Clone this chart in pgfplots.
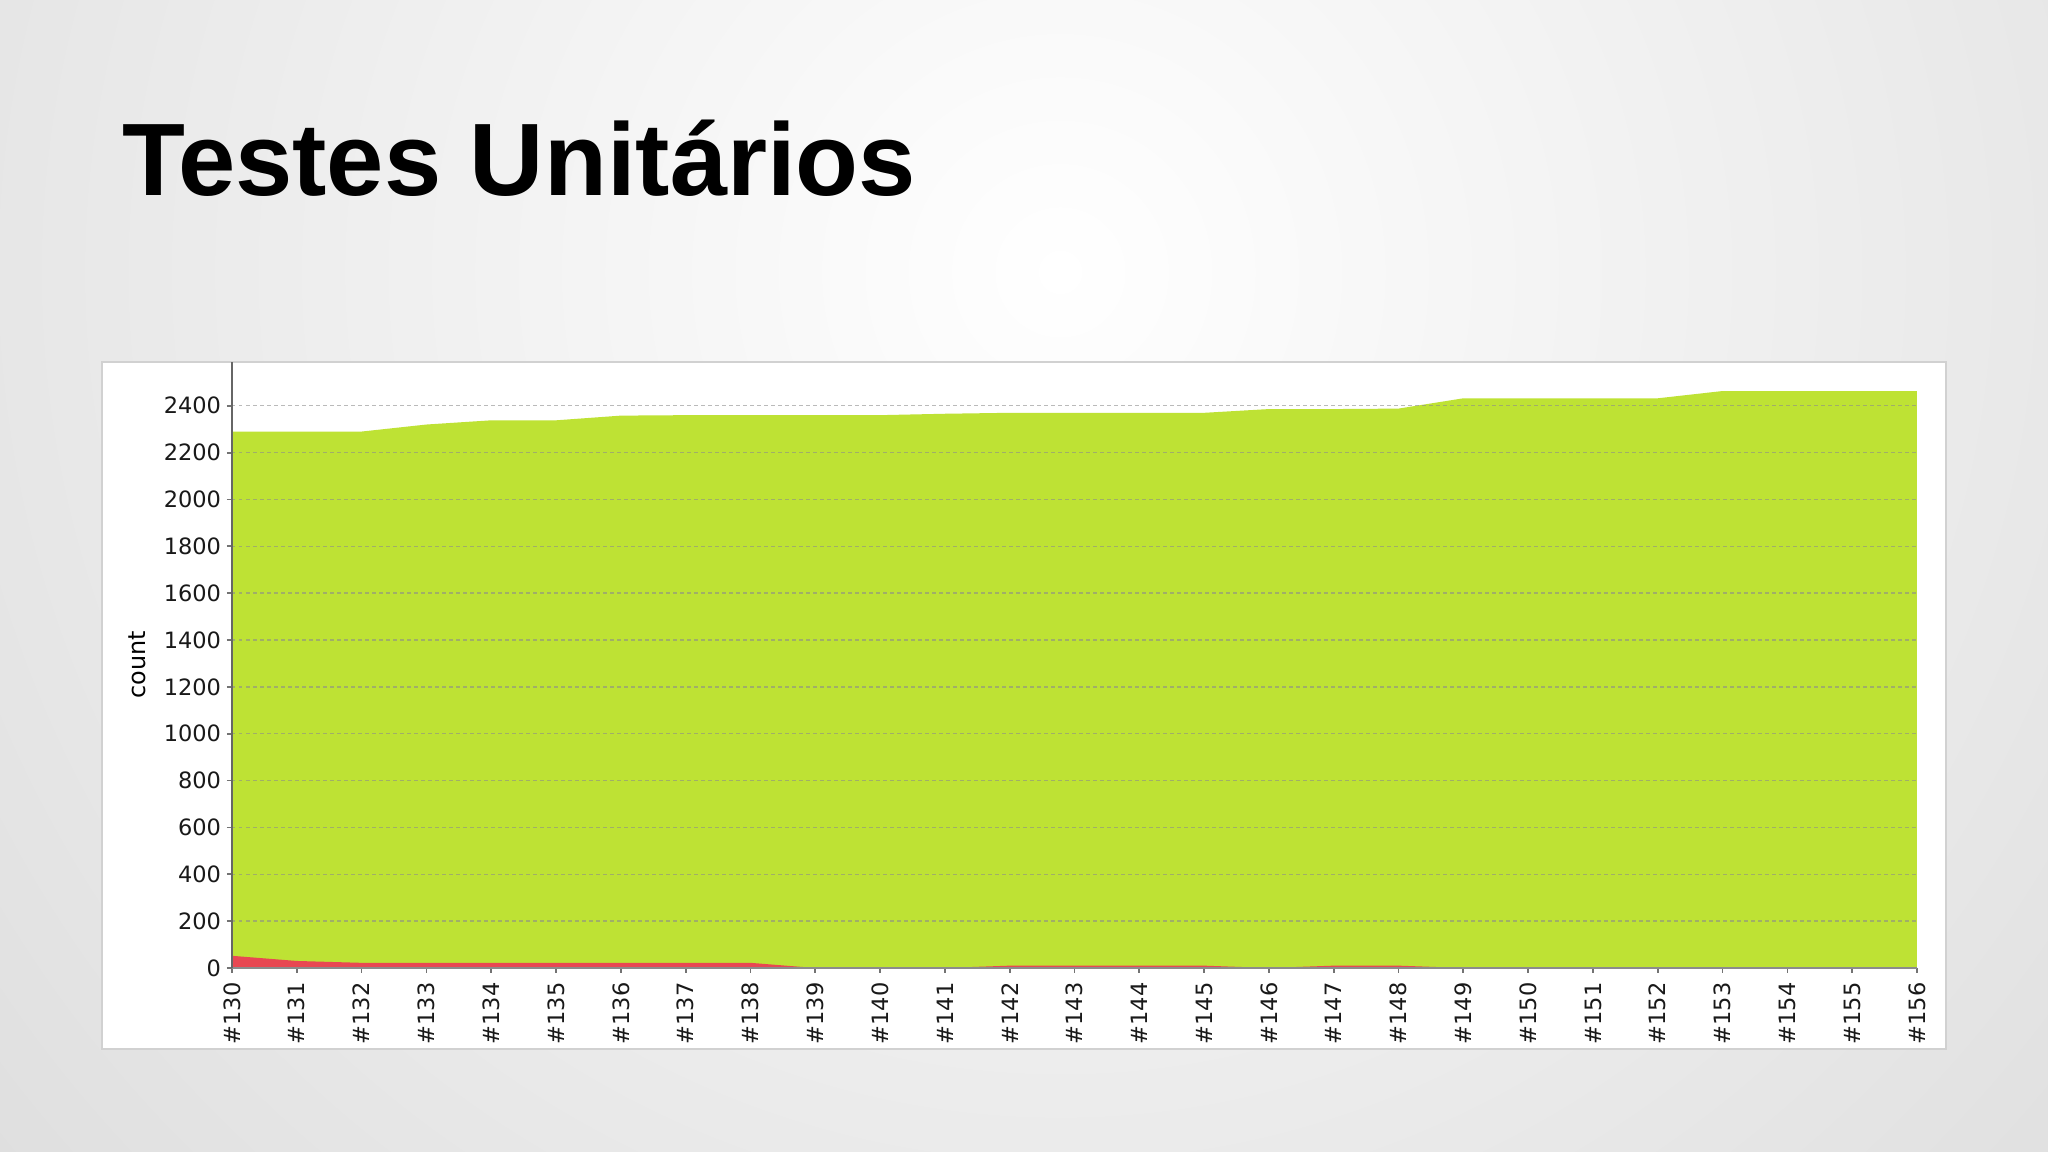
\documentclass[border=0pt]{standalone}
\usepackage{fontspec}
\setmainfont{Liberation Sans}
\newfontfamily\chartfont{DejaVu Sans}
\usepackage{pgfplots}
\pgfplotsset{compat=1.18}
\definecolor{passgreen}{RGB}{190,226,52}
\definecolor{failred}{RGB}{232,72,82}
\begin{document}
\begin{tikzpicture}[x=1cm,y=1cm]
\useasboundingbox (0,0) rectangle (20.48,11.52);
\begin{scope}
\clip (0,0) rectangle (20.48,11.52);
\shade[inner color=white, outer color=black!19] (10.6,8.8) circle (21cm);
\end{scope}
% title
\node[anchor=base west, inner sep=0pt, font=\fontsize{29.3}{32}\selectfont\bfseries] at (1.22,9.56) {Testes Unitários};
% white panel
\fill[white, draw=black!18, line width=0.6pt] (1.02,1.03) rectangle (19.46,7.90);
\begin{axis}[
  at={(2.32cm,1.84cm)}, anchor=origin,
  scale only axis, width=16.85cm, height=6.06cm,
  xmin=130, xmax=156, ymin=0, ymax=2587,
  axis lines*=left,
  axis line style={black!60, line width=0.6pt},
  x axis line style={black!45},
  axis on top,
  xtick={130,...,156},
  xticklabels={\#130,\#131,\#132,\#133,\#134,\#135,\#136,\#137,\#138,\#139,\#140,\#141,\#142,\#143,\#144,\#145,\#146,\#147,\#148,\#149,\#150,\#151,\#152,\#153,\#154,\#155,\#156},
  ytick={0,200,...,2400},
  tick align=outside,
  major tick length=0.05cm,
  tick style={black!55, line width=0.5pt},
  ymajorgrids,
  grid style={black!45, opacity=0.6, line width=0.4pt, dash pattern=on 0.035cm off 0.035cm},
  /pgf/number format/assume math mode=true,
  /pgf/number format/1000 sep={},
  tick label style={font=\chartfont\fontsize{6.4}{7}\selectfont, text=black!90},
  xticklabel style={rotate=90, anchor=east, inner sep=2.5pt},
  yticklabel style={inner sep=1.5pt},
  ylabel={count},
  ylabel style={font=\chartfont\fontsize{6.8}{8}\selectfont, at={(axis description cs:0,0.5)}, anchor=center, rotate=0, yshift=0.95cm},
  clip=false,
]
\addplot[fill=passgreen, draw=none] table {
x y
130 2290
131 2290
132 2290
133 2320
134 2338
135 2338
136 2358
137 2360
138 2360
139 2360
140 2360
141 2366
142 2370
143 2370
144 2370
145 2370
146 2386
147 2386
148 2388
149 2432
150 2432
151 2432
152 2432
153 2463
154 2463
155 2463
156 2463
} \closedcycle;
\addplot[fill=failred, draw=none] table {
x y
130 52
131 30
132 22
133 22
134 22
135 22
136 22
137 22
138 22
139 0
140 0
141 0
142 10
143 10
144 10
145 10
146 0
147 10
148 10
149 0
150 0
151 0
152 0
153 0
154 0
155 0
156 0
} \closedcycle;
\end{axis}
\end{tikzpicture}
\end{document}
